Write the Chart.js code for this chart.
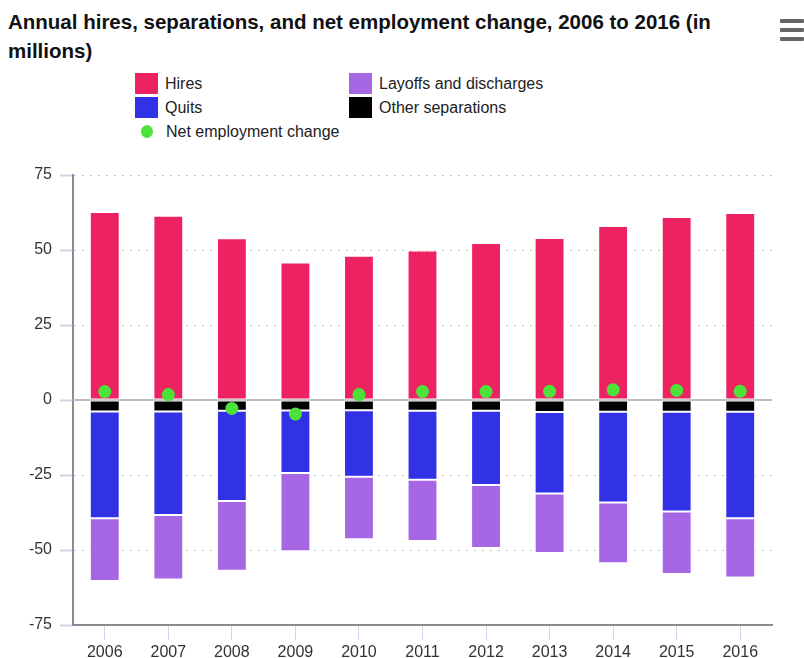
<!DOCTYPE html>
<html>
<head>
<meta charset="utf-8">
<script src="https://cdn.jsdelivr.net/npm/chart.js@4"></script>
<style>
  html, body { margin: 0; padding: 0; background: #fff; }
  body { width: 804px; height: 658px; position: relative; overflow: hidden;
         font-family: "Liberation Sans", Arial, sans-serif; }
  #chart { position: absolute; left: 0; top: 0; }
  #title { position: absolute; left: 8px; top: 7px; width: 730px;
           font-size: 20.5px; font-weight: bold; line-height: 29px; color: #111; }
  #menu { position: absolute; left: 780px; top: 19px; width: 24px; }
  #menu div { height: 4px; background: #666; margin-bottom: 5px; border-radius: 1px; }
  #legend { position: absolute; left: 135px; top: 72px; display: grid;
            grid-template-columns: 214px 220px; grid-auto-rows: 23px; row-gap: 1px;
            font-size: 16px; color: #222; }
  .item { display: flex; align-items: center; white-space: nowrap; }
  .box { width: 23px; height: 21px; margin-right: 7px; flex: none; }
  .dot { width: 12px; height: 13px; border-radius: 50%; margin: 0 13px 0 6px; flex: none; }
</style>
</head>
<body>
<div id="title">Annual hires, separations, and net employment change, 2006 to 2016 (in millions)</div>
<div id="menu"><div></div><div></div><div></div></div>
<div id="legend"></div>
<canvas id="chart" width="804" height="658"></canvas>
<script>
// values in millions
const years = ['2006', '2007', '2008', '2009', '2010', '2011', '2012', '2013', '2014', '2015', '2016'];
const hires = [62.7, 61.4, 53.9, 45.8, 48.1, 49.8, 52.3, 54.0, 58.0, 61.0, 62.3];
const otherSeparations = [-3.8, -3.8, -3.6, -3.5, -3.4, -3.6, -3.6, -4.0, -3.9, -3.9, -3.9];
const quits = [-35.6, -34.5, -30.1, -20.8, -22.2, -23.0, -24.7, -27.2, -30.3, -33.3, -35.5];
const layoffs = [-20.9, -21.5, -23.2, -26.1, -20.8, -20.4, -21.0, -19.8, -20.2, -20.8, -19.8];
const netChange = [2.8, 1.8, -2.8, -4.7, 1.8, 2.8, 2.8, 2.9, 3.4, 3.2, 2.9];
const yTicks = [-75, -50, -25, 0, 25, 50, 75];

const COLORS = {
    hires: '#ec2360',
    quits: '#3131e6',
    layoffs: '#a766e3',
    other: '#000000',
    net: '#4ce23a',
};
const FONT = '"Liberation Sans", Arial, sans-serif';

// legend (two columns, like the original)
const legendItems = [
    {label: 'Hires', color: COLORS.hires},
    {label: 'Layoffs and discharges', color: COLORS.layoffs},
    {label: 'Quits', color: COLORS.quits},
    {label: 'Other separations', color: COLORS.other},
    {label: 'Net employment change', color: COLORS.net, dot: true},
];
const legend = document.getElementById('legend');
for (const it of legendItems) {
    const d = document.createElement('div');
    d.className = 'item';
    d.innerHTML = `<span class="${it.dot ? 'dot' : 'box'}" style="background:${it.color}"></span><span>${it.label}</span>`;
    legend.appendChild(d);
}

// solid line at zero, the other grid lines are dotted
const zeroLine = {
    id: 'zeroLine',
    beforeDatasetsDraw(chart) {
        const y = chart.scales.y.getPixelForValue(0);
        const {left, right} = chart.chartArea;
        const c = chart.ctx;
        c.save();
        c.strokeStyle = '#bdbdbd';
        c.lineWidth = 2;
        c.beginPath();
        c.moveTo(left, y);
        c.lineTo(right, y);
        c.stroke();
        c.restore();
    }
};

const barBase = {
    type: 'bar',
    stack: 'flows',
    borderColor: '#ffffff',
    borderWidth: 1,
    borderSkipped: false,
    barPercentage: 0.47,
    categoryPercentage: 1.0,
    order: 2,
};

new Chart(document.getElementById('chart').getContext('2d'), {
    type: 'bar',
    data: {
        labels: years,
        datasets: [
            {
                type: 'line',
                label: 'Net employment change',
                data: netChange,
                stack: 'net',
                showLine: false,
                pointRadius: 6.5,
                pointBackgroundColor: COLORS.net,
                pointBorderWidth: 0,
                order: 0,
            },
            Object.assign({}, barBase, {label: 'Hires', data: hires, backgroundColor: COLORS.hires}),
            Object.assign({}, barBase, {label: 'Other separations', data: otherSeparations, backgroundColor: COLORS.other}),
            Object.assign({}, barBase, {label: 'Quits', data: quits, backgroundColor: COLORS.quits}),
            Object.assign({}, barBase, {label: 'Layoffs and discharges', data: layoffs, backgroundColor: COLORS.layoffs}),
        ]
    },
    options: {
        responsive: false,
        animation: false,
        layout: { padding: { top: 175, right: 32, left: 0, bottom: 0 } },
        plugins: {
            legend: { display: false },
            title: { display: false },
            tooltip: { enabled: false },
        },
        scales: {
            x: {
                stacked: true,
                offset: true,
                grid: {
                    offset: false,
                    drawOnChartArea: false,
                    drawTicks: true,
                    tickLength: 15,
                    tickColor: '#ccd6eb',
                    tickWidth: 1,
                },
                border: { color: '#8c8c8c', width: 2 },
                ticks: { color: '#333', padding: 3, font: { family: FONT, size: 16 } },
                afterFit: s => { s.height = 33; },
            },
            y: {
                stacked: true,
                min: -75,
                max: 75,
                afterBuildTicks: s => { s.ticks = yTicks.map(v => ({value: v})); },
                grid: {
                    color: ctx => (ctx.tick && ctx.tick.value === 0) ? 'rgba(0,0,0,0)' : '#c8c8c8',
                    lineWidth: 1,
                    tickLength: 13,
                    tickColor: '#ccd6eb',
                    tickWidth: 2,
                },
                border: { color: '#8c8c8c', width: 2, dash: [2, 6] },
                ticks: { color: '#333', padding: 8, font: { family: FONT, size: 16 } },
                afterFit: s => { s.width = 73; },
            }
        }
    },
    plugins: [zeroLine]
});
</script>
</body>
</html>
